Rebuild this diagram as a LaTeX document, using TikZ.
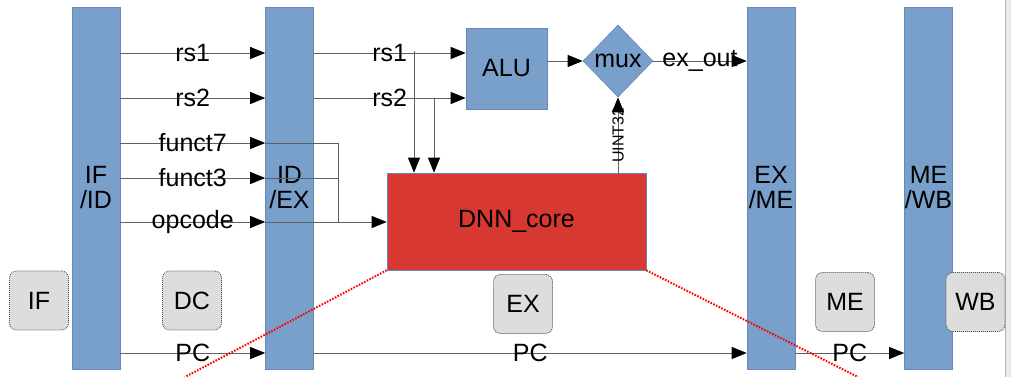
\documentclass[tikz,border=0pt]{standalone}
\usepackage{fontspec}
\setmainfont{Liberation Sans}
\usetikzlibrary{arrows.meta,shapes.geometric}
\definecolor{regblue}{RGB}{121,159,203}
\definecolor{regedge}{RGB}{104,136,184}
\definecolor{corered}{RGB}{216,56,50}
\definecolor{stagegray}{RGB}{221,221,221}
\definecolor{wiregray}{RGB}{95,95,95}

\begin{document}
\begin{tikzpicture}[x=1pt,y=-1pt,>={Triangle[length=15pt,width=12pt,color=black]},
  font=\fontsize{25}{25}\selectfont,
  reg/.style={fill=regblue,draw=regedge,line width=0.6pt,minimum width=48pt,minimum height=362pt,align=center,inner sep=0pt},
  unit/.style={fill=regblue,draw=regedge,line width=0.6pt,inner sep=0pt},
  stage/.style={fill=stagegray,draw=black!70,line width=0.8pt,dash pattern=on 1pt off 1pt,rounded corners=7pt,minimum width=59pt,minimum height=59pt,inner sep=0pt},
  wire/.style={draw=wiregray,line width=0.8pt},
  lbl/.style={inner sep=0pt},
  zoomline/.style={draw=red,line width=2pt,dash pattern=on 1.6pt off 1.4pt}]

\useasboundingbox (0,0) rectangle (1011,377);
\fill[black!8] (1005,0) rectangle (1011,377);
\draw[black!30] (1005,0) -- (1005,377);

\node[reg] (ifid) at (96,188) {IF\\/ID};
\node[reg] (idex) at (289.5,188) {ID\\/EX};
\node[reg] (exme) at (771,188) {EX\\/ME};
\node[reg] (mewb) at (928.5,188) {ME\\/WB};
\node[unit,minimum width=81pt,minimum height=81pt] (alu) at (506.5,68.5) {ALU};
\node[unit,diamond,minimum width=70pt,minimum height=72pt] (mux) at (618,61) {mux};
\node[fill=corered,draw=regedge,line width=0.6pt,minimum width=259pt,minimum height=97pt] (dnn) at (516.5,221.5) {DNN\_core};

\node[stage] (sif) at (39,300.5) {IF};
\node[stage] (sdc) at (192,300.5) {DC};
\node[stage] (sex) at (523,304) {EX};
\node[stage] (sme) at (845,302) {ME};
\node[stage] (swb) at (975.5,302) {WB};

\coordinate (rs1) at (0,53);
\coordinate (rs2) at (0,98);
\coordinate (f7) at (0,143);
\coordinate (f3) at (0,178);
\coordinate (op) at (0,222);
\coordinate (pc) at (0,353);
\coordinate (b1) at (414,51);
\coordinate (b2) at (434,98);
\coordinate (fj) at (338,222);
\coordinate (zl) at (185,377);
\coordinate (zr) at (858,377);

\draw[wire,->] (ifid.east |- rs1) -- node[lbl] {rs1} (idex.west |- rs1);
\draw[wire,->] (ifid.east |- rs2) -- node[lbl] {rs2} (idex.west |- rs2);
\draw[wire,->] (ifid.east |- f7) -- node[lbl] {funct7} (idex.west |- f7);
\draw[wire,->] (ifid.east |- f3) -- node[lbl] {funct3} (idex.west |- f3);
\draw[wire,->] (ifid.east |- op) -- node[lbl] {opcode} (idex.west |- op);
\draw[wire,->] (ifid.east |- pc) -- node[lbl] {PC} (idex.west |- pc);

\draw[wire,->] (idex.east |- rs1) -- node[lbl] {rs1} (alu.west |- rs1);
\draw[wire,->] (idex.east |- rs2) -- node[lbl] {rs2} (alu.west |- rs2);
\draw[wire,->] (b1) -- (b1 |- dnn.north);
\draw[wire,->] (b2) -- (b2 |- dnn.north);
\draw[wire] (idex.west |- f7) -| (fj);
\draw[wire] (idex.west |- f3) -- (fj |- f3);
\draw[wire,->] (idex.west |- op) -- (dnn.west |- op);
\draw[wire,->] (idex.east |- pc) -- node[lbl] {PC} (exme.west |- pc);

\draw[wire,->] (alu.east |- mux.west) -- (mux.west);
\draw[wire,->] (mux.east) -- node[lbl] {ex\_out} (exme.west |- mux.east);
\draw[wire,->] (dnn.north -| mux.south) -- node[lbl,rotate=90,font=\fontsize{16}{16}\selectfont] {UINT32} (mux.south);
\draw[wire,->] (exme.east |- pc) -- node[lbl] {PC} (mewb.west |- pc);

\draw[zoomline] (dnn.south west) -- (zl);
\draw[zoomline] (dnn.south east) -- (zr);

\end{tikzpicture}
\end{document}
